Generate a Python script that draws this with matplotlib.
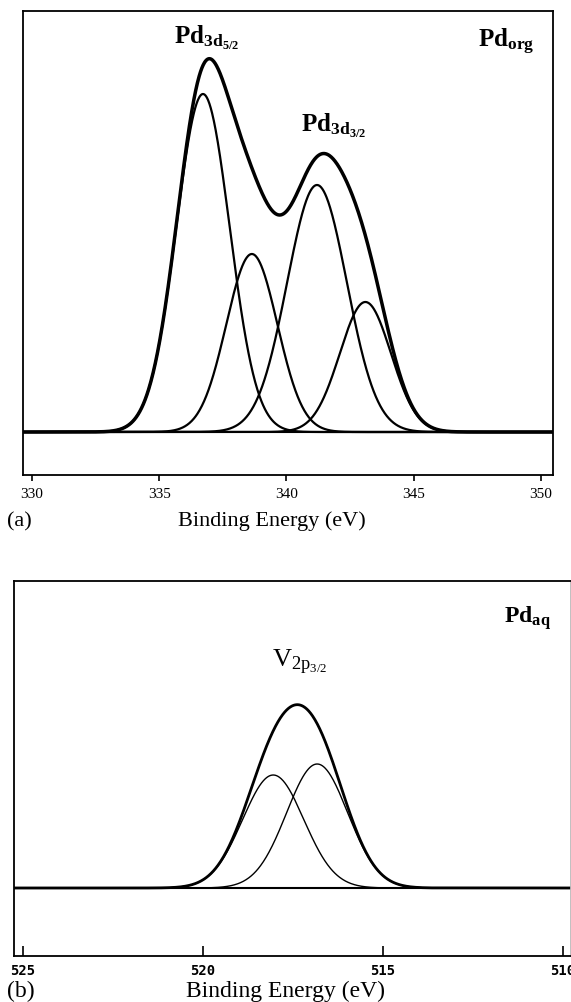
import matplotlib as mpl

mpl.use("Agg")

import matplotlib.pyplot as plt
import numpy as np

IMAGE_DPI = 100.0
WIDTH = 571
HEIGHT = 1003

# (a) Pd_org : Pd 3d fitted components (center eV, height, FWHM eV, Lorentz fraction)
ORG_CENTER = [336.72, 338.64, 341.20, 343.10]
ORG_HEIGHT = [338, 178, 247, 130]
ORG_FWHM = [2.47, 2.36, 2.76, 2.36]
ORG_MIX = [0.0, 0.0, 0.0, 0.0]
ORG_TICKS = [330, 335, 340, 345, 350]

# (b) Pd_aq : V 2p3/2 fitted components
AQ_CENTER = [518.04, 516.82]
AQ_HEIGHT = [113, 124]
AQ_FWHM = [2.0, 2.0]
AQ_MIX = [0.0, 0.0]
AQ_TICKS = [525, 520, 515, 510]

plt.rcParams["font.family"] = ["Liberation Serif", "DejaVu Serif"]
plt.rcParams["mathtext.fontset"] = "custom"
plt.rcParams["mathtext.rm"] = "Liberation Serif"
plt.rcParams["mathtext.it"] = "Liberation Serif:italic"
plt.rcParams["mathtext.bf"] = "Liberation Serif:bold"


def px_rect(left, top, right, bottom):
    return [left / WIDTH, 1 - bottom / HEIGHT, (right - left) / WIDTH, (bottom - top) / HEIGHT]


def fig_text(fig, x, y, s, **kwargs):
    fig.text(x / WIDTH, 1 - y / HEIGHT, s, **kwargs)


def components(x, center, height, fwhm, mix):
    # pseudo-Voigt (Gauss-Lorentz) line shapes
    comps = []
    for c, h, f, m in zip(center, height, fwhm, mix):
        u = ((x - c) / f) ** 2
        comps.append(h * ((1 - m) * np.exp(-4 * np.log(2) * u) + m / (1 + 4 * u)))
    return comps


def plot_org(fig):
    ax = fig.add_axes(px_rect(23, 12, 553, 476))
    x = np.linspace(329.6, 350.5, 1200)
    comps = components(x, ORG_CENTER, ORG_HEIGHT, ORG_FWHM, ORG_MIX)

    for y in comps:
        ax.plot(x, y, color="black", linewidth=1.6)
    ax.plot(x, np.sum(comps, axis=0), color="black", linewidth=2.5)
    ax.axhline(0, color="black", linewidth=1.5)

    ax.set_xlim(329.65, 350.47)
    ax.set_ylim(-43, 421)
    ax.set_xticks(ORG_TICKS)
    ax.set_yticks([])
    ax.tick_params(axis="x", direction="out", length=4, width=1.2, pad=5, labelsize=11)
    for spine in ax.spines.values():
        spine.set_linewidth(1.3)
    return ax


def plot_aq(fig):
    ax = fig.add_axes(px_rect(14, 582, 571, 957))
    x = np.linspace(509.7, 525.3, 1200)
    comps = components(x, AQ_CENTER, AQ_HEIGHT, AQ_FWHM, AQ_MIX)

    for y in comps:
        ax.plot(x, y, color="black", linewidth=1.0)
    ax.plot(x, np.sum(comps, axis=0), color="black", linewidth=2.0)
    ax.axhline(0, color="black", linewidth=1.5)

    ax.set_xlim(525.24, 509.77)
    ax.set_ylim(-68, 307)
    ax.set_xticks(AQ_TICKS)
    ax.set_yticks([])
    ax.tick_params(axis="x", direction="in", length=7, width=1.2, pad=5, labelsize=10)
    for label in ax.get_xticklabels():
        label.set_family("DejaVu Sans Mono")
        label.set_weight("bold")
    for spine in ax.spines.values():
        spine.set_linewidth(1.3)
    ax.spines["right"].set_color("#BBBBBB")
    return ax


fig = plt.figure(figsize=(WIDTH / IMAGE_DPI, HEIGHT / IMAGE_DPI), dpi=IMAGE_DPI, facecolor="white")

plot_org(fig)
plot_aq(fig)

fig_text(fig, 207, 38, r"$\mathbf{Pd}_{\mathbf{3d}_{\mathbf{5/2}}}$", ha="center", va="center", fontsize=18)
fig_text(fig, 334, 126, r"$\mathbf{Pd}_{\mathbf{3d}_{\mathbf{3/2}}}$", ha="center", va="center", fontsize=18)
fig_text(fig, 506, 42, r"$\mathbf{Pd}_{\mathbf{org}}$", ha="center", va="center", fontsize=18)
fig_text(fig, 7, 522, "(a)", ha="left", va="center", fontsize=16)
fig_text(fig, 272, 521, "Binding Energy (eV)", ha="center", va="center", fontsize=16)

fig_text(fig, 527, 618, r"$\mathbf{Pd}_{\mathbf{aq}}$", ha="center", va="center", fontsize=17)
fig_text(fig, 300, 662, r"$\mathrm{V}_{2\mathrm{p}_{3/2}}$", ha="center", va="center", fontsize=19)
fig_text(fig, 7, 991, "(b)", ha="left", va="center", fontsize=17)
fig_text(fig, 286, 991, "Binding Energy (eV)", ha="center", va="center", fontsize=17)

fig.savefig("out.png", dpi=IMAGE_DPI, facecolor="white")
plt.close(fig)
